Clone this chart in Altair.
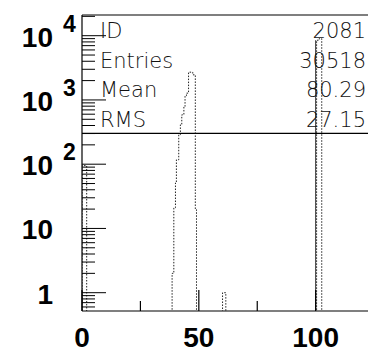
import altair as alt
import pandas as pd

# ---- data ----
# dotted histogram: bin low edge, bin high edge, content
dot_lo = [0.0, 38.56, 39.3, 40.0, 40.4, 41.4, 42.1, 42.7, 43.6, 44.1, 44.7, 45.6, 47.4, 48.5, 60.15, 100.4, 101.5]
dot_hi = [2.0, 39.3, 40.0, 40.4, 41.4, 42.1, 42.7, 43.6, 44.1, 44.7, 45.6, 47.4, 48.5, 49.0, 61.55, 101.5, 102.6]
dot_n = [95, 2.0, 21, 51, 117, 287, 410, 587, 790, 1160, 1276, 2705, 2460, 19.6, 1.0, 8500, 9000]

# solid histogram: a single narrow spike
solid_x = [100.0]
solid_n = [8500]

stat_names = ["ID", "Entries", "Mean", "RMS"]
stat_vals = ["2081", "30518", "80.29", "27.15"]

ylab_vals = [1, 10, 100, 1000, 10000]
ylab_base = ["1", "10", "10", "10", "10"]
ylab_exp = ["", "", "2", "3", "4"]

xlab_vals = [0, 50, 100]
xtick_major = [0, 50, 100]
xtick_minor = [25, 75]
ytick_major = [1, 10, 100, 1000, 10000]
ytick_minor = [m * d for d in [0.1, 1, 10, 100, 1000, 10000] for m in range(2, 10)]

W, H = 286, 296
FLOOR = 0.2
xs = alt.Scale(domain=[0, 122.4], nice=False, zero=False)
ys = alt.Scale(type="log", domain=[0.519, 20990], nice=False)

# outline points of the dotted histogram
pts = []
prev = None
for lo, hi, c in zip(dot_lo, dot_hi, dot_n):
    if prev is None or abs(lo - prev) > 1e-9:
        if prev is not None:
            pts.append((prev, FLOOR))
        pts.append((lo, FLOOR))
    pts.append((lo, c))
    pts.append((hi, c))
    prev = hi
pts.append((prev, FLOOR))
outline = pd.DataFrame({"x": [p[0] for p in pts], "y": [p[1] for p in pts], "i": list(range(len(pts)))})

hist = alt.Chart(outline).mark_line(
    clip=True, color="#222", strokeWidth=1, strokeDash=[1.5, 1.5], interpolate="linear"
).encode(
    x=alt.X("x:Q", scale=xs, axis=None),
    y=alt.Y("y:Q", scale=ys, axis=None),
    order="i:Q",
)

solid = alt.Chart(pd.DataFrame({"x": solid_x, "n": solid_n, "f": [FLOOR]})).mark_rule(
    clip=True, color="#333", strokeWidth=1
).encode(x=alt.X("x:Q", scale=xs), y=alt.Y("f:Q", scale=ys), y2="n:Q")

frame_col = "#000"
left_line = alt.Chart(pd.DataFrame({"a": [0]})).mark_rule(color=frame_col, strokeWidth=1.2).encode(
    x=alt.value(0), y=alt.value(0), y2=alt.value(H))
top_line = alt.Chart(pd.DataFrame({"a": [0]})).mark_rule(color=frame_col, strokeWidth=1.2).encode(
    x=alt.value(0), x2=alt.value(W), y=alt.value(0))
bot_line = alt.Chart(pd.DataFrame({"a": [0]})).mark_rule(color=frame_col, strokeWidth=1.2).encode(
    x=alt.value(0), x2=alt.value(W), y=alt.value(H))
stat_line = alt.Chart(pd.DataFrame({"a": [0]})).mark_rule(color=frame_col, strokeWidth=1.2).encode(
    x=alt.value(0), x2=alt.value(W), y=alt.value(118.3))

yt_major = alt.Chart(pd.DataFrame({"v": ytick_major})).mark_rule(color=frame_col, strokeWidth=1).encode(
    y=alt.Y("v:Q", scale=ys), x=alt.value(0), x2=alt.value(24))
yt_minor = alt.Chart(pd.DataFrame({"v": ytick_minor})).transform_filter(
    "datum.v > 0.519 && datum.v < 20990").mark_rule(color=frame_col, strokeWidth=1).encode(
    y=alt.Y("v:Q", scale=ys), x=alt.value(0), x2=alt.value(13))
xt_major = alt.Chart(pd.DataFrame({"v": xtick_major})).mark_rule(color=frame_col, strokeWidth=1.2).encode(
    x=alt.X("v:Q", scale=xs), y=alt.value(H), y2=alt.value(H - 21))
xt_minor = alt.Chart(pd.DataFrame({"v": xtick_minor})).mark_rule(color=frame_col, strokeWidth=1.2).encode(
    x=alt.X("v:Q", scale=xs), y=alt.value(H), y2=alt.value(H - 10))

LF = "Liberation Sans"
ydf = pd.DataFrame({"v": ylab_vals, "b": ylab_base, "e": ylab_exp})
ylab_b = alt.Chart(ydf).mark_text(font=LF, fontSize=28, fontWeight="bold", align="right",
                                  baseline="alphabetic", dy=11, color="#000").encode(
    y=alt.Y("v:Q", scale=ys), x=alt.value(-29), text="b:N")
ylab_e = alt.Chart(ydf).mark_text(font=LF, fontSize=23, fontWeight="bold", align="left",
                                  baseline="alphabetic", dy=-4, color="#000").encode(
    y=alt.Y("v:Q", scale=ys), x=alt.value(-19), text="e:N")
xlab = alt.Chart(pd.DataFrame({"v": xlab_vals, "t": [str(v) for v in xlab_vals]})).mark_text(
    font=LF, fontSize=28, fontWeight="bold", align="center", baseline="alphabetic", color="#000").encode(
    x=alt.X("v:Q", scale=xs), y=alt.value(332), text="t:N")

stat_layers = []
for i, (nm, vl) in enumerate(zip(stat_names, stat_vals)):
    yy = 23 + i * 29.7
    stat_layers.append(alt.Chart(pd.DataFrame({"t": [nm]})).mark_text(
        font="DejaVu Sans", fontSize=21, fontWeight=200, align="left", baseline="alphabetic", color="#111"
    ).encode(x=alt.value(18), y=alt.value(yy), text="t:N"))
    stat_layers.append(alt.Chart(pd.DataFrame({"t": [vl]})).mark_text(
        font="DejaVu Sans", fontSize=21, fontWeight=200, align="right", baseline="alphabetic", color="#111"
    ).encode(x=alt.value(284), y=alt.value(yy), text="t:N"))

chart = alt.layer(
    hist, solid, left_line, top_line, bot_line, stat_line,
    yt_major, yt_minor, xt_major, xt_minor, ylab_b, ylab_e, xlab, *stat_layers
).properties(
    width=W, height=H, autosize="none",
    padding={"left": 82, "top": 15, "right": 0, "bottom": 38},
    background="white",
).configure_view(stroke=None)

chart.save("out.html", embed_options={"renderer": "svg", "actions": False})
